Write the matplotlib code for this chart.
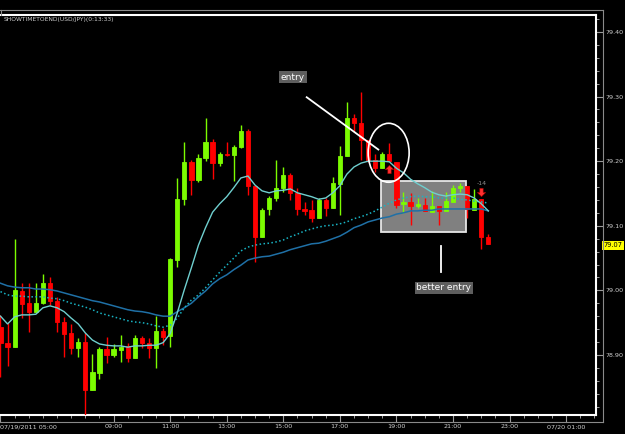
import numpy as np
import matplotlib
matplotlib.use("Agg")
import matplotlib.pyplot as plt
from matplotlib.patches import Rectangle, Ellipse
from matplotlib.lines import Line2D
from matplotlib.path import Path

# USD/JPY M15 bars, 07/19/2011 05:00 .. 22:15
opens = [78.943, 78.919, 78.912, 78.999, 78.981, 78.967, 78.981, 79.011, 78.984, 78.951,
         78.934, 78.911, 78.920, 78.846, 78.872, 78.909, 78.900, 78.908, 78.914, 78.895,
         78.926, 78.919, 78.911, 78.937, 78.929, 79.047, 79.141, 79.199, 79.171, 79.205,
         79.230, 79.197, 79.211, 79.210, 79.222, 79.247, 79.162, 79.083, 79.126, 79.143,
         79.159, 79.179, 79.151, 79.126, 79.124, 79.112, 79.140, 79.128, 79.165, 79.208,
         79.267, 79.259, 79.233, 79.202, 79.189, 79.211, 79.199, 79.134, 79.137, 79.131,
         79.132, 79.121, 79.131, 79.123, 79.137, 79.159, 79.162, 79.124, 79.141, 79.083]
highs = [78.962, 78.950, 79.080, 79.011, 79.011, 79.011, 79.025, 79.021, 78.990, 78.959,
         78.948, 78.926, 78.934, 78.902, 78.912, 78.928, 78.917, 78.931, 78.919, 78.931,
         78.929, 78.926, 78.960, 78.942, 79.050, 79.174, 79.230, 79.202, 79.211, 79.267,
         79.234, 79.214, 79.230, 79.225, 79.256, 79.250, 79.162, 79.128, 79.146, 79.202,
         79.191, 79.182, 79.159, 79.137, 79.140, 79.143, 79.143, 79.176, 79.224, 79.292,
         79.273, 79.307, 79.233, 79.211, 79.214, 79.228, 79.199, 79.152, 79.151, 79.143,
         79.143, 79.154, 79.131, 79.152, 79.163, 79.166, 79.162, 79.157, 79.141, 79.087]
lows = [78.866, 78.883, 78.912, 78.957, 78.936, 78.967, 78.979, 78.977, 78.936, 78.897,
        78.902, 78.897, 78.806, 78.846, 78.863, 78.888, 78.897, 78.889, 78.889, 78.895,
        78.911, 78.895, 78.880, 78.915, 78.912, 79.036, 79.132, 79.148, 79.168, 79.200,
        79.172, 79.193, 79.208, 79.169, 79.220, 79.148, 79.044, 79.083, 79.117, 79.138,
        79.152, 79.140, 79.117, 79.117, 79.106, 79.112, 79.115, 79.128, 79.117, 79.208,
        79.245, 79.202, 79.199, 79.183, 79.189, 79.200, 79.128, 79.120, 79.101, 79.128,
        79.123, 79.121, 79.101, 79.123, 79.137, 79.152, 79.112, 79.124, 79.064, 79.072]
closes = [78.919, 78.912, 79.001, 78.979, 78.967, 78.981, 79.011, 78.984, 78.951, 78.933,
          78.911, 78.920, 78.846, 78.874, 78.909, 78.900, 78.909, 78.912, 78.895, 78.926,
          78.919, 78.911, 78.937, 78.928, 79.049, 79.141, 79.199, 79.171, 79.205, 79.230,
          79.197, 79.211, 79.210, 79.222, 79.247, 79.162, 79.083, 79.124, 79.143, 79.159,
          79.179, 79.151, 79.126, 79.123, 79.112, 79.140, 79.128, 79.166, 79.208, 79.267,
          79.259, 79.233, 79.202, 79.189, 79.211, 79.200, 79.132, 79.137, 79.131, 79.134,
          79.123, 79.131, 79.123, 79.138, 79.159, 79.162, 79.126, 79.141, 79.083, 79.072]

# moving averages (fast solid, mid dotted, slow solid)
ma_fast = [78.960, 78.948, 78.959, 78.962, 78.962, 78.963, 78.973, 78.976, 78.973, 78.967,
           78.957, 78.948, 78.934, 78.923, 78.917, 78.915, 78.914, 78.914, 78.912, 78.914,
           78.914, 78.915, 78.915, 78.919, 78.933, 78.965, 79.001, 79.035, 79.070, 79.097,
           79.121, 79.134, 79.145, 79.159, 79.174, 79.177, 79.163, 79.154, 79.151, 79.154,
           79.155, 79.157, 79.151, 79.148, 79.145, 79.141, 79.143, 79.151, 79.162, 79.180,
           79.191, 79.197, 79.200, 79.200, 79.200, 79.199, 79.189, 79.182, 79.172, 79.165,
           79.159, 79.152, 79.148, 79.146, 79.148, 79.149, 79.148, 79.143, 79.134, 79.123]
ma_mid = [78.998, 78.993, 78.991, 78.991, 78.990, 78.990, 78.990, 78.988, 78.987, 78.984,
          78.980, 78.977, 78.974, 78.970, 78.965, 78.962, 78.959, 78.956, 78.953, 78.951,
          78.950, 78.948, 78.945, 78.943, 78.946, 78.957, 78.973, 78.985, 78.993, 79.004,
          79.016, 79.028, 79.039, 79.050, 79.061, 79.067, 79.070, 79.072, 79.073, 79.075,
          79.078, 79.083, 79.087, 79.092, 79.095, 79.098, 79.100, 79.101, 79.103, 79.106,
          79.111, 79.114, 79.118, 79.123, 79.129, 79.135, 79.140, 79.143, 79.145, 79.146,
          79.145, 79.145, 79.143, 79.143, 79.143, 79.141, 79.140, 79.138, 79.137, 79.135]
ma_slow = [79.011, 79.007, 79.005, 79.004, 79.004, 79.002, 79.002, 79.001, 78.999, 78.996,
           78.993, 78.990, 78.987, 78.984, 78.982, 78.979, 78.976, 78.973, 78.970, 78.968,
           78.967, 78.965, 78.962, 78.960, 78.960, 78.967, 78.973, 78.980, 78.990, 78.999,
           79.010, 79.018, 79.024, 79.032, 79.039, 79.047, 79.050, 79.052, 79.053, 79.056,
           79.059, 79.063, 79.066, 79.069, 79.072, 79.073, 79.076, 79.080, 79.084, 79.090,
           79.097, 79.101, 79.106, 79.109, 79.112, 79.114, 79.118, 79.120, 79.123, 79.123,
           79.124, 79.124, 79.126, 79.126, 79.126, 79.126, 79.126, 79.126, 79.126, 79.123]

time_ticks = [0, 16, 24, 32, 40, 48, 56, 64, 72, 80]
time_labels = ["07/19/2011 05:00", "09:00", "11:00", "13:00", "15:00",
               "17:00", "19:00", "21:00", "23:00", "07/20 01:00"]
price_ticks = [78.90, 79.00, 79.10, 79.20, 79.30, 79.40]
last_price = 79.07
title = "SHOWTIMETOEND(USD/JPY)(0:13:33)"

W, H = 625, 434
fig = plt.figure(figsize=(W / 100, H / 100), dpi=100, facecolor="black")
ax = fig.add_axes([0, 19 / H, 596 / W, 400 / H], facecolor="black")
ax.set_xlim(-0.07, 84.23)
ax.set_ylim(78.807, 79.4263)

idx = np.arange(len(opens))
o = np.array(opens); c = np.array(closes)
up = c >= o
bull, bear = "#7cfc00", "#ff0000"
cols = np.where(up, bull, bear)

# wicks + bodies
ax.vlines(idx, lows, highs, colors=cols, linewidth=1.0, zorder=3)
ax.bar(idx, np.maximum(np.abs(c - o), 0.0008), bottom=np.minimum(o, c), width=0.6,
       color=cols, edgecolor=cols, linewidth=0.6, zorder=3)

# moving averages
ax.plot(idx, ma_slow, color="#1f70a6", lw=1.1, zorder=4)
ax.plot(idx, ma_mid, color="#19b4c4", lw=1.1, ls=(0, (1, 1.6)), zorder=4)
ax.plot(idx, ma_fast, color="#6fcfcf", lw=1.0, zorder=4)

# drawn objects
ax.add_patch(Rectangle((53.82, 79.090), 12.02, 0.079, facecolor="#808080",
                       edgecolor="#e6e6e6", lw=1.3, zorder=1))
ax.add_patch(Ellipse((54.9, 79.213), 5.8, 0.0913, fill=False, edgecolor="white",
                     lw=1.2, zorder=5))
ax.plot([43.31, 53.44], [79.299, 79.218], color="white", lw=1.3, zorder=5)
ax.plot([62.31, 62.31], [79.069, 79.028], color="white", lw=1.3, zorder=5)
ax.text(41.37, 79.330, "entry", color="white", fontsize=6.5, ha="center", va="center",
        bbox=dict(facecolor="#5e5e5e", edgecolor="none", pad=1.2), zorder=6)
ax.text(62.7, 79.004, "better entry", color="white", fontsize=6.5, ha="center",
        va="center", bbox=dict(facecolor="#5e5e5e", edgecolor="none", pad=1.2), zorder=6)

# signal arrows
arrow_up = Path([(0, 1), (-1, 0), (-0.4, 0), (-0.4, -1), (0.4, -1), (0.4, 0), (1, 0), (0, 1)],
                closed=True)
arrow_dn = Path([(0, -1), (-1, 0), (-0.4, 0), (-0.4, 1), (0.4, 1), (0.4, 0), (1, 0), (0, -1)],
                closed=True)
ax.plot([55], [79.188], marker=arrow_up, ms=6, color="#ff3030", mec="#b00000", mew=0.4, zorder=6)
ax.plot([68], [79.153], marker=arrow_dn, ms=6, color="#ff3030", mec="#b00000", mew=0.4, zorder=6)
ax.text(68, 79.165, "-14", color="#909090", fontsize=4.5, ha="center", va="center", zorder=6)

# frame and axes
for side in ["top", "right", "bottom"]:
    ax.spines[side].set_color("white")
    ax.spines[side].set_linewidth(1.5)
ax.spines["left"].set_visible(False)

ax.yaxis.tick_right()
ax.set_yticks(price_ticks)
ax.set_yticklabels([f"{p:.2f}" for p in price_ticks])
ax.set_yticks(np.arange(78.82, 79.43, 0.02), minor=True)
ax.set_xticks(time_ticks)
ax.set_xticklabels(time_labels)
ax.set_xticks(np.arange(0, 85, 2), minor=True)
ax.tick_params(axis="both", which="major", colors="#9a9a9a", labelcolor="#d0d0d0",
               labelsize=4.6, length=5, width=0.8, direction="out", pad=1.5)
ax.tick_params(axis="both", which="minor", colors="#9a9a9a", length=2.5, width=0.7,
               direction="out")
ax.get_xticklabels()[0].set_horizontalalignment("left")

# current price marker
ax.text(1.0125, last_price, f"{last_price:.2f}", transform=ax.get_yaxis_transform(),
        fontsize=4.8, color="black", ha="left", va="center", clip_on=False,
        bbox=dict(facecolor="#ffff00", edgecolor="none", pad=1.0), zorder=7)

# outer grey rulers
def px_line(x0, y0, x1, y1, color="#8a8a8a", lw=0.8):
    fig.add_artist(Line2D([x0 / W, x1 / W], [1 - y0 / H, 1 - y1 / H], color=color, lw=lw,
                          transform=fig.transFigure))

px_line(0, 9.5, 603, 9.5)
px_line(603, 9.5, 603, 422)
px_line(0, 422, 603, 422)
px_line(0.5, 9.5, 0.5, 15)

fig.text(4 / W, 1 - 19.5 / H, title, fontsize=4.3, color="#d0d0d0", va="center")

fig.savefig("out.png", dpi=100, facecolor="black")
